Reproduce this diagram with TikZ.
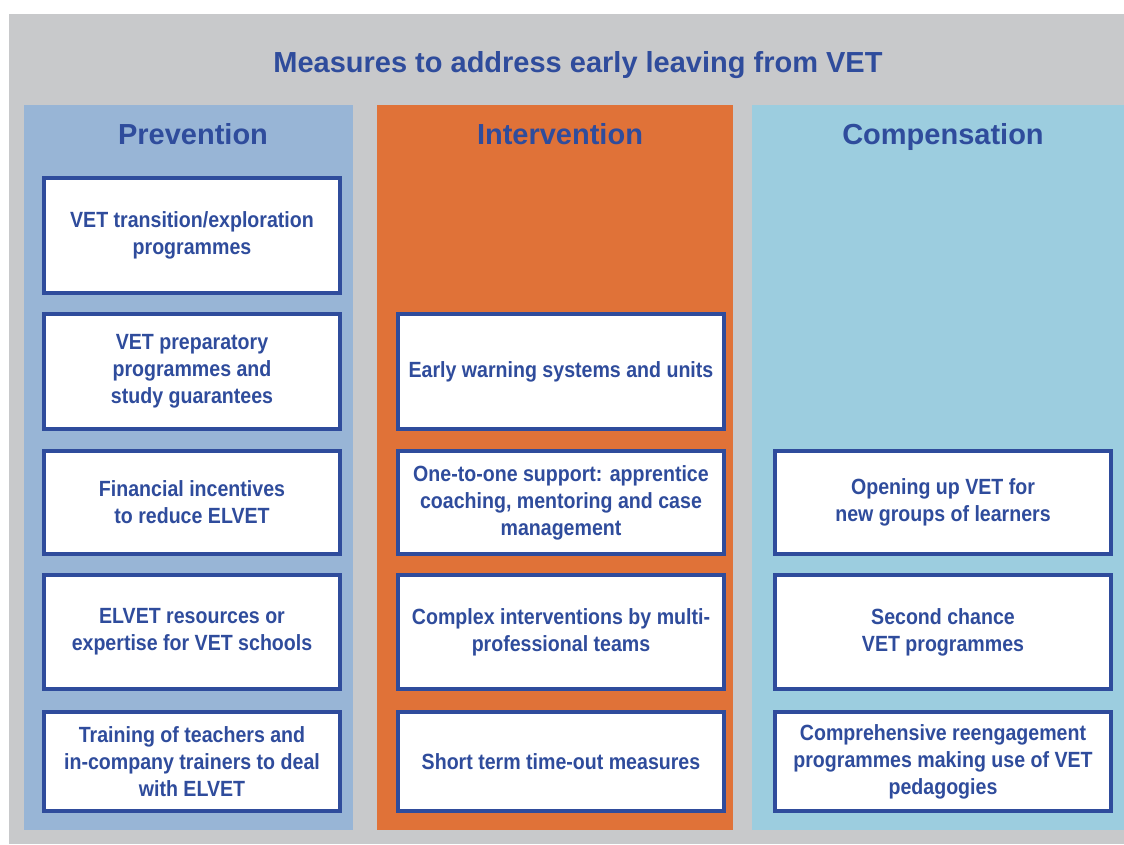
\documentclass[tikz,border=0pt]{standalone}
\usepackage{fontspec}
\setmainfont{Liberation Sans}
\newfontfamily\boxfont{Liberation Sans}[FakeStretch=0.89]
\usepackage{xcolor}
\definecolor{frame}{HTML}{C8C9CB}
\definecolor{navy}{HTML}{2F4C9C}
\definecolor{prevblue}{HTML}{98B5D6}
\definecolor{intorange}{HTML}{E07238}
\definecolor{compblue}{HTML}{9CCDDF}
\usepackage{tikz}
\usetikzlibrary{positioning}

\begin{document}
\begin{tikzpicture}[x=1pt, y=-1pt]
	% ------------------------------------------------------------------
	% STYLE DEFINITIONS
	% ------------------------------------------------------------------
	\tikzset{
		title/.style   = {text=navy, anchor=base, font=\fontsize{29}{34}\selectfont\bfseries},
		colhead/.style = {text=navy, anchor=base, font=\fontsize{29}{34}\selectfont\bfseries},
		measure/.style = {draw=navy, line width=4pt, fill=white, text=navy, align=center,
		                  inner sep=0pt, font=\boxfont\fontsize{22}{27}\selectfont\bfseries},
		prev/.style    = {measure, minimum width=296pt},
		inter/.style   = {measure, minimum width=326pt},
		comp/.style    = {measure, minimum width=336pt},
		rowA/.style    = {minimum height=115pt},
		rowB/.style    = {minimum height=103pt},
		rowC/.style    = {minimum height=114pt},
		rowD/.style    = {minimum height=99pt},
	}
	\useasboundingbox (0,0) rectangle (1124,844);
	
	% ------------------------------------------------------------------
	% BACKGROUND & COLUMNS
	% ------------------------------------------------------------------
	\fill[frame] (9,14) rectangle (1124,844);
	\fill[prevblue]  (24,105)  rectangle (353,830);
	\fill[intorange] (377,105) rectangle (733,830);
	\fill[compblue]  (752,105) rectangle (1124,830);
	
	\node[title] (heading) at (578,72) {Measures to address early leaving from VET};
	\node[colhead] (prevention)   at (193,144) {Prevention};
	\node[colhead] (intervention) at (560,144) {Intervention};
	\node[colhead] (compensation) at (943,144) {Compensation};
	
	% ------------------------------------------------------------------
	% PREVENTION
	% ------------------------------------------------------------------
	\node[prev, rowA] (p1) at (192,235.5) {VET transition/exploration\\programmes};
	\node[prev, rowA] (p2) at (192,371.5) {VET preparatory\\programmes and\\study guarantees};
	\node[prev, rowB] (p3) at (192,502.5) {Financial incentives\\to reduce ELVET};
	\node[prev, rowC] (p4) at (192,632)   {ELVET resources or\\expertise for VET schools};
	\node[prev, rowD] (p5) at (192,761.5) {Training of teachers and\\in-company trainers to deal\\with ELVET};
	
	% ------------------------------------------------------------------
	% INTERVENTION
	% ------------------------------------------------------------------
	\node[inter, rowA] (i1) at (561,371.5) {Early warning systems and units};
	\node[inter, rowB] (i2) at (561,502.5) {One-to-one support: apprentice\\coaching, mentoring and case\\management};
	\node[inter, rowC] (i3) at (561,632)   {Complex interventions by multi-\\professional teams};
	\node[inter, rowD] (i4) at (561,761.5) {Short term time-out measures};
	
	% ------------------------------------------------------------------
	% COMPENSATION
	% ------------------------------------------------------------------
	\node[comp, rowB] (c1) at (943,502.5) {Opening up VET for\\new groups of learners};
	\node[comp, rowC] (c2) at (943,632)   {Second chance\\VET programmes};
	\node[comp, rowD] (c3) at (943,761.5) {Comprehensive reengagement\\programmes making use of VET\\pedagogies};
	
\end{tikzpicture}
\end{document}
